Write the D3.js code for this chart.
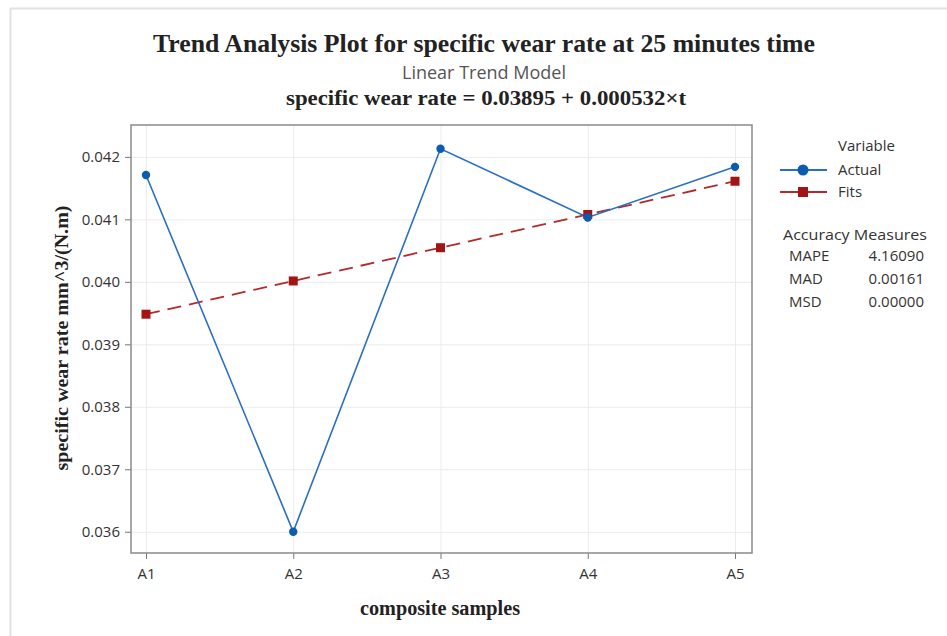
<!DOCTYPE html>
<meta charset="utf-8">
<style>
body { margin: 0; background: #fff; }
svg { display: block; }
.tick text { font-family: 'Open Sans', sans-serif; font-size: 15px; fill: #333; }
.axis path { stroke: none; }
.axis line { stroke: #777; }
.grid line { stroke: #ececec; }
.grid path { stroke: none; }
.serif { font-family: 'Liberation Serif', 'Times New Roman', serif; font-weight: bold; fill: #222; }
.sans { font-family: 'Open Sans', sans-serif; fill: #333; }
</style>
<body>
<script src="https://d3js.org/d3.v7.min.js"></script>
<script>
var samples = ["A1", "A2", "A3", "A4", "A5"];
var actual = [0.04171, 0.03600, 0.04213, 0.04103, 0.04184];
var fits = [0.039482, 0.040014, 0.040546, 0.041078, 0.04161];
var yTicks = [0.036, 0.037, 0.038, 0.039, 0.040, 0.041, 0.042];
var measures = [["MAPE", "4.16090"], ["MAD", "0.00161"], ["MSD", "0.00000"]];

var W = 947, H = 636;
var frame = {left: 131, top: 125, right: 752, bottom: 553};

var svg = d3.select("body").append("svg")
	.attr("width", W)
	.attr("height", H);

// outer light border
svg.append("rect")
	.attr("x", 10.5).attr("y", 8.5)
	.attr("width", W).attr("height", H)
	.style("fill", "none")
	.style("stroke", "#e2e2e2")
	.style("stroke-width", 2);

var x = d3.scalePoint().domain(samples).range([146, 735]);
var y = d3.scaleLinear().domain([0.03566, 0.04251]).range([frame.bottom, frame.top]);

// gridlines
svg.append("g")
	.attr("class", "grid")
	.attr("transform", "translate(0," + frame.bottom + ")")
	.call(d3.axisBottom(x).tickSize(-(frame.bottom - frame.top)).tickFormat(""));
svg.append("g")
	.attr("class", "grid")
	.attr("transform", "translate(" + frame.left + ",0)")
	.call(d3.axisLeft(y).tickValues(yTicks).tickSize(-(frame.right - frame.left)).tickFormat(""));

// axes
svg.append("g")
	.attr("class", "axis")
	.attr("transform", "translate(0," + frame.bottom + ")")
	.call(d3.axisBottom(x).tickSize(6).tickPadding(6))
	.selectAll("text").attr("dy", "0.9em");
svg.append("g")
	.attr("class", "axis")
	.attr("transform", "translate(" + frame.left + ",0)")
	.call(d3.axisLeft(y).tickValues(yTicks).tickSize(6).tickPadding(5).tickFormat(d3.format(".3f")));

// frame
svg.append("rect")
	.attr("x", frame.left).attr("y", frame.top)
	.attr("width", frame.right - frame.left)
	.attr("height", frame.bottom - frame.top)
	.style("fill", "none")
	.style("stroke", "#8a8a8a")
	.style("stroke-width", 1.5);

var blue = "#0b5cb0", red = "#a31414";

var fitLine = d3.line()
	.x(function(d, i) { return x(samples[i]); })
	.y(function(d) { return y(d); });

svg.append("path")
	.attr("d", fitLine(fits))
	.style("fill", "none")
	.style("stroke", "#b32a2a")
	.style("stroke-width", 1.8)
	.style("stroke-dasharray", "14,8");

svg.append("path")
	.attr("d", fitLine(actual))
	.style("fill", "none")
	.style("stroke", "#2a6fc0")
	.style("stroke-width", 1.6);

svg.selectAll(".fitpt").data(fits).enter().append("rect")
	.attr("x", function(d, i) { return x(samples[i]) - 4.5; })
	.attr("y", function(d) { return y(d) - 4.5; })
	.attr("width", 9).attr("height", 9)
	.style("fill", red);

svg.selectAll(".actpt").data(actual).enter().append("circle")
	.attr("cx", function(d, i) { return x(samples[i]); })
	.attr("cy", function(d) { return y(d); })
	.attr("r", 4.2)
	.style("fill", blue);

// titles
svg.append("text").attr("class", "serif")
	.attr("x", 484).attr("y", 52)
	.attr("text-anchor", "middle")
	.attr("textLength", 662).attr("lengthAdjust", "spacingAndGlyphs")
	.style("font-size", "25px")
	.text("Trend Analysis Plot for specific wear rate at 25 minutes time");
svg.append("text").attr("class", "sans")
	.attr("x", 484).attr("y", 79)
	.attr("text-anchor", "middle")
	.style("font-size", "18px")
	.style("fill", "#555")
	.text("Linear Trend Model");
svg.append("text").attr("class", "serif")
	.attr("x", 486).attr("y", 105)
	.attr("text-anchor", "middle")
	.attr("textLength", 400).attr("lengthAdjust", "spacingAndGlyphs")
	.style("font-size", "20px")
	.text("specific wear rate  = 0.03895 + 0.000532\u00d7t");

// axis labels
svg.append("text").attr("class", "serif")
	.attr("transform", "translate(68,338) rotate(-90)")
	.attr("text-anchor", "middle")
	.attr("textLength", 265).attr("lengthAdjust", "spacingAndGlyphs")
	.style("font-size", "19px")
	.text("specific wear rate mm^3/(N.m)");
svg.append("text").attr("class", "serif")
	.attr("x", 440).attr("y", 615)
	.attr("text-anchor", "middle")
	.attr("textLength", 160).attr("lengthAdjust", "spacingAndGlyphs")
	.style("font-size", "20px")
	.text("composite samples");

// legend
var lg = svg.append("g");
lg.append("text").attr("class", "sans")
	.attr("x", 838).attr("y", 151)
	.style("font-size", "15px")
	.text("Variable");
lg.append("line").attr("x1", 780).attr("x2", 827).attr("y1", 170).attr("y2", 170)
	.style("stroke", "#2a6fc0").style("stroke-width", 2);
lg.append("circle").attr("cx", 803).attr("cy", 170).attr("r", 5.5).style("fill", blue);
lg.append("text").attr("class", "sans")
	.attr("x", 838).attr("y", 175)
	.style("font-size", "15px")
	.text("Actual");
lg.append("line").attr("x1", 780).attr("x2", 827).attr("y1", 192).attr("y2", 192)
	.style("stroke", "#b32a2a").style("stroke-width", 2);
lg.append("rect").attr("x", 798).attr("y", 187).attr("width", 10).attr("height", 10).style("fill", red);
lg.append("text").attr("class", "sans")
	.attr("x", 838).attr("y", 197)
	.style("font-size", "15px")
	.text("Fits");

lg.append("text").attr("class", "sans")
	.attr("x", 783).attr("y", 240)
	.attr("textLength", 144).attr("lengthAdjust", "spacingAndGlyphs")
	.style("font-size", "15px")
	.text("Accuracy Measures");
lg.selectAll(".mname").data(measures).enter().append("text")
	.attr("class", "sans")
	.attr("x", 789)
	.attr("y", function(d, i) { return 261 + i * 23; })
	.style("font-size", "15px")
	.text(function(d) { return d[0]; });
lg.selectAll(".mval").data(measures).enter().append("text")
	.attr("class", "sans")
	.attr("x", 924)
	.attr("text-anchor", "end")
	.attr("y", function(d, i) { return 261 + i * 23; })
	.style("font-size", "15px")
	.text(function(d) { return d[1]; });
</script>
